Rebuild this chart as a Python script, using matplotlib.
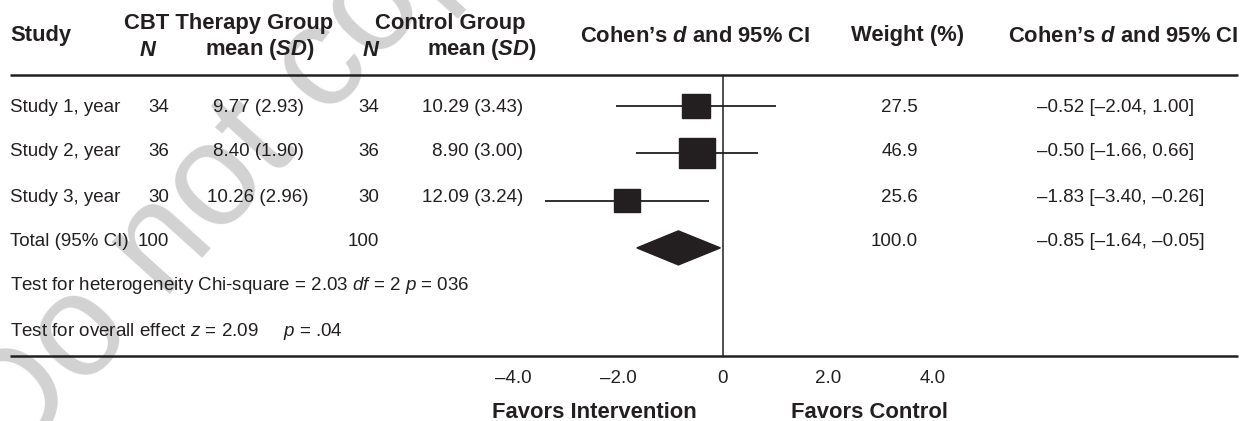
import numpy as np
import matplotlib
matplotlib.use("Agg")
import matplotlib.pyplot as plt
from matplotlib.patches import Rectangle, Polygon

plt.rcParams['font.family'] = ['Liberation Sans', 'DejaVu Sans']
plt.rcParams['mathtext.fontset'] = 'custom'
plt.rcParams['mathtext.rm'] = 'Liberation Sans'
plt.rcParams['mathtext.it'] = 'Liberation Sans:italic'
plt.rcParams['mathtext.bf'] = 'Liberation Sans:bold'
plt.rcParams['mathtext.bfit'] = 'Liberation Sans:italic:bold'

# data
studies = ["Study 1, year", "Study 2, year", "Study 3, year"]
cbt_n = [34, 36, 30]
cbt_mean = [9.77, 8.40, 10.26]
cbt_sd = [2.93, 1.90, 2.96]
ctl_n = [34, 36, 30]
ctl_mean = [10.29, 8.90, 12.09]
ctl_sd = [3.43, 3.00, 3.24]
weights = [27.5, 46.9, 25.6]
d_est = [-0.52, -0.50, -1.83]
d_lo = [-2.04, -1.66, -3.40]
d_hi = [1.00, 0.66, -0.26]

total_label = "Total (95% CI)"
total_cbt_n = 100
total_ctl_n = 100
total_w = 100.0
total_d, total_lo, total_hi = -0.85, -1.64, -0.05

het_text = "Test for heterogeneity Chi-square = 2.03 $\\mathit{df}$ = 2 $\\mathit{p}$ = 036"
eff_text = "Test for overall effect $\\mathit{z}$ = 2.09     $\\mathit{p}$ = .04"

xticks = [-4, -2, 0, 2, 4]
xtick_labels = ["\u20134.0", "\u20132.0", "0", "2.0", "4.0"]


def dash(v):
    return f"{v:.2f}".replace("-", "\u2013")


W, H = 1254, 421
fig = plt.figure(figsize=(W / 100, H / 100), dpi=100)

# background axes in pixel coords for the table part
tab = fig.add_axes([0, 0, 1, 1])
tab.set_xlim(0, W)
tab.set_ylim(H, 0)
tab.axis('off')

# watermark
tab.text(12, 470, "Do not copy", fontsize=105, color='#d2d2d2', rotation=48,
         rotation_mode='anchor', ha='left', va='baseline', zorder=0)

hdr = dict(fontsize=15.8, fontweight='bold', va='center', color='#231f20', zorder=3)
body = dict(fontsize=13.5, va='center', color='#231f20', zorder=3)

tab.text(10, 36, "Study", ha='left', **hdr)
tab.text(229, 23, "CBT Therapy Group", ha='center', **hdr)
tab.text(148, 50, "$\\mathbfit{N}$", ha='center', **hdr)
tab.text(260, 50, "mean ($\\mathbfit{SD}$)", ha='center', **hdr)
tab.text(450, 23, "Control Group", ha='center', **hdr)
tab.text(371, 50, "$\\mathbfit{N}$", ha='center', **hdr)
tab.text(482, 50, "mean ($\\mathbfit{SD}$)", ha='center', **hdr)
tab.text(695, 36, "Cohen\u2019s $\\mathbfit{d}$ and 95% CI", ha='center', **hdr)
tab.text(908, 36, "Weight (%)", ha='center', **hdr)
tab.text(1123, 36, "Cohen\u2019s $\\mathbfit{d}$ and 95% CI", ha='center', **hdr)

tab.hlines([75], 10, 1238, color='#231f20', lw=1.8, zorder=2)
tab.hlines([356], 10, 1238, color='#231f20', lw=1.8, zorder=2)

row_y = [107, 152, 197, 241, 286, 331]
for i, name in enumerate(studies):
    y = row_y[i]
    tab.text(10, y, name, ha='left', **body)
    tab.text(169, y, str(cbt_n[i]), ha='right', **body)
    tab.text(258, y, f"{cbt_mean[i]:.2f} ({cbt_sd[i]:.2f})", ha='center', **body)
    tab.text(379, y, str(ctl_n[i]), ha='right', **body)
    tab.text(523, y, f"{ctl_mean[i]:.2f} ({ctl_sd[i]:.2f})", ha='right', **body)
    tab.text(918, y, f"{weights[i]:.1f}", ha='right', **body)
    tab.text(1037, y, f"{dash(d_est[i])} [{dash(d_lo[i])}, {dash(d_hi[i])}]", ha='left', **body)

y = row_y[3]
tab.text(10, y, total_label, ha='left', **body)
tab.text(169, y, str(total_cbt_n), ha='right', **body)
tab.text(379, y, str(total_ctl_n), ha='right', **body)
tab.text(918, y, f"{total_w:.1f}", ha='right', **body)
tab.text(1037, y, f"{dash(total_d)} [{dash(total_lo)}, {dash(total_hi)}]", ha='left', **body)

tab.text(10, row_y[4], het_text, ha='left', **body)
tab.text(10, row_y[5], eff_text, ha='left', **body)

tab.text(697, 412, "Favors Intervention", ha='right', fontsize=15.8, fontweight='bold',
         va='center', color='#231f20')
tab.text(791, 412, "Favors Control", ha='left', fontsize=15.8, fontweight='bold',
         va='center', color='#231f20')

# forest plot axes: x in Cohen's d units, y in rows
x0_px, x1_px = 480, 960
top_px, bot_px = 75, 356
ax = fig.add_axes([x0_px / W, 1 - bot_px / H, (x1_px - x0_px) / W, (bot_px - top_px) / H])
ax.patch.set_alpha(0)
ppu = 52.5  # pixels per d unit
ax.set_xlim((x0_px - 723) / ppu, (x1_px - 723) / ppu)
row_px = 47.3
ax.set_ylim((bot_px - 106) / row_px, (top_px - 106) / row_px)
for s in ax.spines.values():
    s.set_visible(False)
ax.set_yticks([])
ax.set_xticks(xticks)
ax.set_xticklabels(xtick_labels, fontsize=13.5, color='#231f20')
ax.tick_params(axis='x', length=0, pad=10)

ax.axvline(0, color='#231f20', lw=1.1)

for i in range(len(studies)):
    ax.hlines(i, d_lo[i], d_hi[i], color='#231f20', lw=1.3)
    wpx = 5.3 * np.sqrt(weights[i])
    w = wpx / ppu
    h = 0.83 * wpx / row_px
    ax.add_patch(Rectangle((d_est[i] - w / 2, i - h / 2), w, h, color='#231f20', zorder=3))

hd = 17 / row_px
ax.add_patch(Polygon([(total_lo, 3), (total_d, 3 - hd), (total_hi, 3), (total_d, 3 + hd)],
                     closed=True, color='#231f20', zorder=3))

fig.savefig("out.png", dpi=100)
